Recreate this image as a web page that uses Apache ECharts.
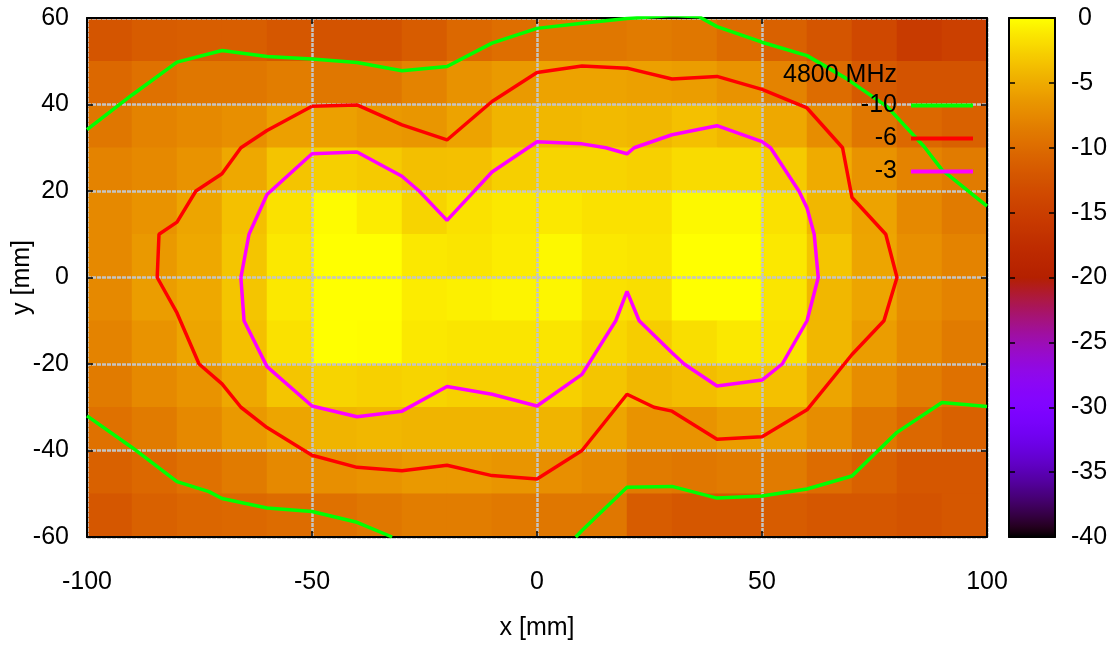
<!DOCTYPE html>
<html>
<head>
<meta charset="utf-8">
<script src="https://cdn.jsdelivr.net/npm/echarts@6/dist/echarts.min.js"></script>
<style>html,body{margin:0;padding:0;background:#fff}#c{width:1117px;height:646px}</style>
</head>
<body>
<div id="c"></div>
<script>
// ---- data ----
var xCats = [-95,-85,-75,-65,-55,-45,-35,-25,-15,-5,5,15,25,35,45,55,65,75,85,95];
var yCats = [-55,-45,-35,-25,-15,-5,5,15,25,35,45,55];
// field rows from top (y=55) to bottom (y=-55), dB
var row55  = [-12.3,-11.5,-11.3,-11.3,-12.0,-12.5,-12.5,-11.5,-10.3,-9.8,-9.0,-9.0,-8.7,-9.0,-10.0,-11.0,-12.3,-13.8,-15.5,-14.8];
var row45  = [-10.3,-9.5,-9.0,-9.0,-8.5,-9.0,-9.0,-8.0,-6.8,-6.2,-5.6,-5.6,-5.8,-6.0,-6.7,-8.0,-10.0,-11.7,-12.5,-12.5];
var row35  = [-9.0,-8.0,-7.5,-7.0,-5.8,-5.8,-6.3,-6.5,-5.6,-4.4,-4.2,-4.0,-4.2,-3.6,-4.2,-5.2,-7.2,-9.0,-10.3,-11.0];
var row25  = [-8.0,-7.5,-6.7,-5.2,-3.4,-2.7,-3.0,-3.7,-3.6,-2.7,-2.4,-2.4,-2.6,-2.0,-2.0,-3.0,-5.0,-6.7,-8.0,-8.7];
var row15  = [-7.5,-6.7,-5.4,-3.6,-1.6,-0.2,-1.0,-2.4,-1.6,-1.2,-1.2,-1.6,-1.6,-0.4,-0.4,-1.6,-4.2,-5.6,-7.5,-8.7];
var row5   = [-7.5,-6.3,-5.2,-3.3,-1.2,0,0,-1.2,-1.4,-1.0,-0.4,-1.2,-1.4,0,0,-1.2,-3.3,-5.4,-7.0,-8.0];
var rowm5  = [-7.5,-6.0,-5.2,-3.3,-1.2,0,0,-1.0,-0.8,-0.6,-0.5,-1.6,-1.8,0,0,-1.4,-4.2,-5.4,-7.2,-8.0];
var rowm15 = [-8.0,-6.7,-5.4,-3.6,-1.6,0,-0.1,-1.2,-1.4,-1.4,-1.4,-2.2,-2.8,-1.8,-1.2,-1.6,-4.2,-6.0,-7.5,-8.7];
var rowm25 = [-8.7,-7.5,-6.7,-5.2,-3.3,-2.4,-2.6,-2.4,-2.6,-2.6,-2.6,-3.3,-4.2,-3.8,-3.3,-3.6,-5.4,-7.2,-8.5,-9.5];
var rowm35 = [-9.5,-8.7,-7.5,-6.3,-5.4,-4.4,-4.2,-4.4,-4.4,-4.4,-4.4,-5.4,-6.7,-6.7,-6.0,-6.0,-7.2,-9.0,-10.3,-11.0];
var rowm45 = [-11.0,-10.3,-9.5,-8.7,-7.5,-7.0,-6.7,-6.3,-6.3,-6.6,-7.0,-7.5,-8.7,-9.0,-8.7,-8.7,-10.0,-11.0,-12.0,-12.0];
var rowm55 = [-12.0,-11.0,-10.5,-10.3,-10.0,-9.5,-9.0,-8.5,-8.5,-8.8,-9.0,-9.0,-11.5,-12.0,-12.0,-11.5,-12.0,-12.0,-12.5,-12.0];

// contour lines [x, y]
var c10a = [[-100,34.2],[-90,42.2],[-80,49.8],[-70,52.5],[-60,51.1],[-50,50.5],[-40,49.7],[-30,47.8],[-20,48.8],[-10,54.2],[0,57.6],[10,58.8],[20,59.9],[30,60.6],[36,60.3],[40,58],[50,54.4],[60,51.3],[68.6,46.1],[77.8,39.5],[86,30.3],[90,24.9],[100,16.5]];
var c10b = [[-100,-32],[-90,-39.3],[-80,-47.2],[-72.9,-49.5],[-70,-51.1],[-60,-53.3],[-50,-54.1],[-40,-56.6],[-32.2,-60]];
var c10c = [[8.6,-60],[10,-58.5],[20,-48.5],[30,-48.3],[40,-51],[50,-50.5],[60,-48.9],[70,-45.9],[80,-35.8],[90,-28.9],[100,-29.8]];
var c6 = [[-50,39.6],[-40,39.9],[-30,35.3],[-20,31.8],[-10,40.7],[0,47.4],[10,48.9],[20,48.4],[30,45.9],[40,46.5],[50,43.5],[60,39.2],[67.9,30],[70,18.5],[77.5,10],[80,0],[77.1,-10],[70,-17.8],[60,-30.6],[50,-36.8],[40,-37.4],[30,-30.9],[26,-30],[20,-27],[10,-40],[0,-46.6],[-10,-45.8],[-20,-43.4],[-30,-44.7],[-40,-43.9],[-50,-41.1],[-60,-34.7],[-65.8,-30],[-70,-24.6],[-75.1,-20],[-80,-8.2],[-84.4,0],[-84,10],[-80,12.8],[-75.8,20],[-70,24],[-65.8,30],[-60,34],[-50,39.6]];
var c3 = [[-65.8,0],[-64,10],[-60,19.2],[-50,28.6],[-40,29],[-30,23.4],[-26.2,20],[-20,13.2],[-10,24.4],[0,31.4],[10,30.9],[15.3,30],[20,28.6],[21.6,30],[30,33],[40,35.1],[50,31.4],[51.9,30],[58.2,20],[60,16.1],[61.6,10],[62.5,0],[60,-10],[54.5,-20],[50,-23.7],[40,-25.1],[32.7,-20],[30,-17.4],[22.7,-10],[20,-3.2],[17.5,-10],[10,-22.4],[0,-29.7],[-10,-27],[-20,-25.2],[-30,-30.9],[-40,-32.2],[-50,-29.7],[-60,-20.6],[-65.1,-10],[-65.8,0]];

var legendNames = ['-10','-6','-3'];
var titleText = '4800 MHz';

// ---- build ----
var rows = [row55,row45,row35,row25,row15,row5,rowm5,rowm15,rowm25,rowm35,rowm45,rowm55];
var heat = [];
rows.forEach(function(r, ri){
  r.forEach(function(v, ci){ heat.push([ci, rows.length - 1 - ri, v]); });
});

// gnuplot default palette (rgbformulae 7,5,15)
var pal = [];
for (var i = 0; i <= 80; i++) {
  var t = i / 80;
  var r = Math.sqrt(t), g = t*t*t, b = Math.max(0, Math.sin(2*Math.PI*t));
  pal.push('rgb(' + Math.round(r*255) + ',' + Math.round(g*255) + ',' + Math.round(b*255) + ')');
}

var FF = 'Liberation Sans, Arial, sans-serif';
var FS = 25;
var black = '#000';
var tickStyle = {inside:true, length:6, lineStyle:{color:black, width:1.5}};
var lineAx = {show:true, onZero:false, lineStyle:{color:black, width:2}};
var gridLine = {show:true, lineStyle:{color:'#c4c4c4', width:2.5, type:[4,1]}};

var chart = echarts.init(document.getElementById('c'), null, {renderer:'canvas'});
chart.setOption({
  animation:false,
  backgroundColor:'#fff',
  textStyle:{fontFamily:FF},
  title:{text:titleText, right:220, top:63, padding:0,
    textStyle:{fontSize:FS, fontWeight:'normal', color:black, fontFamily:FF, lineHeight:25}},
  legend:{data:legendNames, orient:'vertical', right:144, top:93, align:'right', icon:'rect',
    itemWidth:62, itemHeight:4, itemGap:8, padding:0, selectedMode:false,
    textStyle:{fontSize:FS, color:black, fontFamily:FF, lineHeight:25, padding:[0,9,0,0]}},
  grid:[
    {left:87, top:18, width:900, height:519, outerBoundsMode:'none', containLabel:false},
    {left:87, top:18, width:900, height:519, outerBoundsMode:'none', containLabel:false},
    {left:1009, top:18, width:46, height:519, outerBoundsMode:'none', containLabel:false}
  ],
  xAxis:[
    {gridIndex:0, type:'category', data:xCats, show:false},
    {gridIndex:1, type:'value', min:-100, max:100, interval:50, position:'bottom', z:2,
      axisLine:lineAx, axisTick:tickStyle, splitLine:gridLine,
      axisLabel:{margin:33, fontSize:FS, color:black, fontFamily:FF},
      name:'x [mm]', nameLocation:'middle', nameGap:79, nameMoveOverlap:false,
      nameTextStyle:{fontSize:FS, color:black, fontFamily:FF}},
    {gridIndex:1, type:'value', min:-100, max:100, interval:50, position:'top', z:2,
      axisLine:lineAx, axisTick:tickStyle, axisLabel:{show:false}, splitLine:{show:false}},
    {gridIndex:2, type:'value', min:0, max:1, position:'bottom', z:5,
      axisLine:lineAx, axisTick:{show:false}, axisLabel:{show:false}, splitLine:{show:false}},
    {gridIndex:2, type:'value', min:0, max:1, position:'top', z:5,
      axisLine:lineAx, axisTick:{show:false}, axisLabel:{show:false}, splitLine:{show:false}}
  ],
  yAxis:[
    {gridIndex:0, type:'category', data:yCats, show:false},
    {gridIndex:1, type:'value', min:-60, max:60, interval:20, position:'left', z:2,
      axisLine:lineAx, axisTick:tickStyle, splitLine:gridLine,
      axisLabel:{margin:18, fontSize:FS, color:black, fontFamily:FF},
      name:'y [mm]', nameLocation:'middle', nameGap:52, nameRotate:90, nameMoveOverlap:false,
      nameTextStyle:{fontSize:FS, color:black, fontFamily:FF}},
    {gridIndex:1, type:'value', min:-60, max:60, interval:20, position:'right', z:2,
      axisLine:lineAx, axisTick:tickStyle, axisLabel:{show:false}, splitLine:{show:false}},
    {gridIndex:2, type:'value', min:-40, max:0, interval:5, position:'right', z:5,
      axisLine:lineAx, axisTick:tickStyle, splitLine:{show:false},
      axisLabel:{margin:16, fontSize:FS, color:black, fontFamily:FF,
        formatter:function(v){ return v === 0 ? ' 0' : String(v); }}},
    {gridIndex:2, type:'value', min:-40, max:0, interval:5, position:'left', z:5,
      axisLine:lineAx, axisTick:tickStyle, axisLabel:{show:false}, splitLine:{show:false}}
  ],
  visualMap:{type:'continuous', min:-40, max:0, dimension:2, seriesIndex:0, calculable:false,
    orient:'vertical', left:1009, top:18, itemWidth:46, itemHeight:519, padding:0,
    inRange:{color:pal}, hoverLink:false},
  series:[
    {type:'heatmap', xAxisIndex:0, yAxisIndex:0, data:heat, z:1,
      itemStyle:{borderWidth:0}, emphasis:{disabled:true}},
    {name:'-10', type:'line', xAxisIndex:1, yAxisIndex:1, data:c10a, z:3, symbol:'none', showSymbol:false,
      lineStyle:{color:'#00ff00', width:3.5}, itemStyle:{color:'#00ff00'}},
    {name:'-10', type:'line', xAxisIndex:1, yAxisIndex:1, data:c10b, z:3, symbol:'none', showSymbol:false,
      lineStyle:{color:'#00ff00', width:3.5}, itemStyle:{color:'#00ff00'}},
    {name:'-10', type:'line', xAxisIndex:1, yAxisIndex:1, data:c10c, z:3, symbol:'none', showSymbol:false,
      lineStyle:{color:'#00ff00', width:3.5}, itemStyle:{color:'#00ff00'}},
    {name:'-6', type:'line', xAxisIndex:1, yAxisIndex:1, data:c6, z:3, symbol:'none', showSymbol:false,
      lineStyle:{color:'#ff0000', width:3.5}, itemStyle:{color:'#ff0000'}},
    {name:'-3', type:'line', xAxisIndex:1, yAxisIndex:1, data:c3, z:3, symbol:'none', showSymbol:false,
      lineStyle:{color:'#ff00ff', width:3.5}, itemStyle:{color:'#ff00ff'}},
    {name:'cb', type:'line', xAxisIndex:3, yAxisIndex:3, data:[], silent:true}
  ]
});
</script>
</body>
</html>
